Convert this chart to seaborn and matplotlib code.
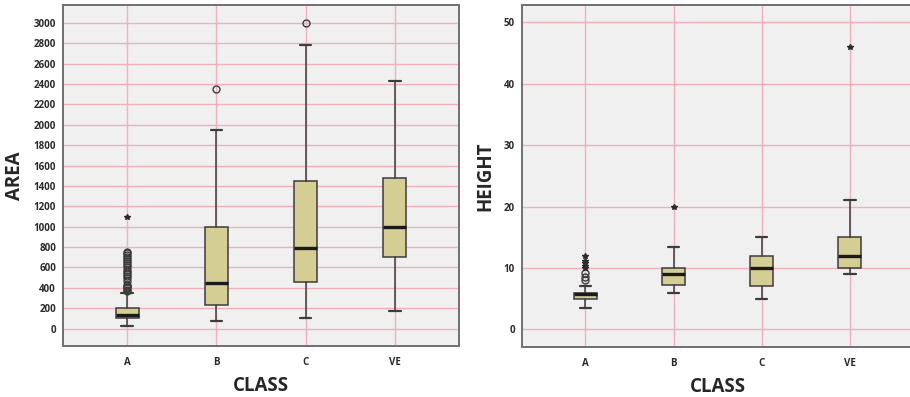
import matplotlib
matplotlib.use("Agg")
import matplotlib.pyplot as plt
import seaborn as sns

# ─── Data ───────────────────────────────────────────────────────────────────
classes = ["A", "B", "C", "VE"]

# AREA summary per class
area_whislo = [30, 75, 100, 175]
area_q1     = [100, 235, 460, 700]
area_med    = [130, 450, 790, 1000]
area_q3     = [200, 1000, 1450, 1475]
area_whishi = [350, 1950, 2780, 2430]
area_outliers = [
    [365, 380, 395, 405, 415, 425, 470, 500, 520, 540, 560, 580, 600, 620,
     640, 660, 680, 700, 720, 740, 750],
    [2350],
    [3000],
    [],
]
area_extremes = [[1100], [], [], []]

# HEIGHT summary per class
height_whislo = [3.5, 6, 5, 9]
height_q1     = [5, 7.2, 7, 10]
height_med    = [5.8, 9, 10, 12]
height_q3     = [6, 10, 12, 15]
height_whishi = [7, 13.5, 15, 21]
height_outliers = [[8, 8.6, 9.2], [], [], []]
height_extremes = [[10, 10.4, 10.8, 11.2, 12], [20], [], [46]]

BOX_COLOR   = "#d4cd94"
LINE_COLOR  = "#3c3c3c"
GRID_COLOR  = "#f2b0bc"
FACE_COLOR  = "#f0f0f0"

sns.set_style("whitegrid", {"axes.facecolor": FACE_COLOR,
                            "grid.color": GRID_COLOR})
plt.rcParams["font.family"] = ["Open Sans", "DejaVu Sans"]


def draw_panel(ax, whislo, q1, med, q3, whishi, outliers, extremes,
               ylabel, yticks, ylim):
    stats = [
        {"label": c, "whislo": lo, "q1": a, "med": m, "q3": b,
         "whishi": hi, "fliers": fl}
        for c, lo, a, m, b, hi, fl in zip(classes, whislo, q1, med, q3,
                                           whishi, outliers)
    ]
    ax.bxp(stats, positions=range(len(classes)), widths=0.26,
           patch_artist=True, showfliers=True,
           boxprops=dict(facecolor=BOX_COLOR, edgecolor=LINE_COLOR,
                         linewidth=1.1),
           medianprops=dict(color="#1a1a1a", linewidth=2.4),
           whiskerprops=dict(color=LINE_COLOR, linewidth=1.1),
           capprops=dict(color=LINE_COLOR, linewidth=1.6),
           capwidths=0.13,
           flierprops=dict(marker="o", markersize=5, markerfacecolor="none",
                           markeredgecolor=LINE_COLOR, markeredgewidth=1.0))
    for i, ext in enumerate(extremes):
        if ext:
            ax.plot([i] * len(ext), ext, linestyle="none", marker="*",
                    markersize=4, color="#2a2a2a")

    ax.set_xlim(-0.72, 3.72)
    ax.set_ylim(*ylim)
    ax.set_yticks(yticks)
    ax.set_xticks(range(len(classes)))
    ax.set_xticklabels(classes)
    ax.grid(True, color=GRID_COLOR, linewidth=1.0)
    ax.set_axisbelow(True)
    ax.tick_params(axis="both", which="major", length=3, width=0.8,
                   color="#555555", labelsize=7)
    ax.tick_params(axis="y", pad=2)
    ax.tick_params(axis="x", pad=5)
    for lab in ax.get_xticklabels() + ax.get_yticklabels():
        lab.set_fontweight("bold")
        lab.set_color("#2a2a2a")
    ax.set_xlabel("CLASS", fontsize=13.5, fontweight="bold", labelpad=6)
    ax.set_ylabel(ylabel, fontsize=13.5, fontweight="bold", labelpad=6)
    for side in ["left", "bottom", "top", "right"]:
        ax.spines[side].set_visible(True)
        ax.spines[side].set_color("#707070")
        ax.spines[side].set_linewidth(1.4)


fig = plt.figure(figsize=(9.1, 3.97), dpi=100)
ax1 = fig.add_axes([0.0692, 0.1285, 0.4352, 0.859])
ax2 = fig.add_axes([0.5736, 0.126, 0.43, 0.861])

draw_panel(ax1, area_whislo, area_q1, area_med, area_q3, area_whishi,
           area_outliers, area_extremes, "AREA",
           list(range(0, 3001, 200)), (-170, 3175))
draw_panel(ax2, height_whislo, height_q1, height_med, height_q3,
           height_whishi, height_outliers, height_extremes, "HEIGHT",
           [0, 10, 20, 30, 40, 50], (-2.85, 52.8))

fig.savefig("out.png", dpi=100)
plt.close(fig)
